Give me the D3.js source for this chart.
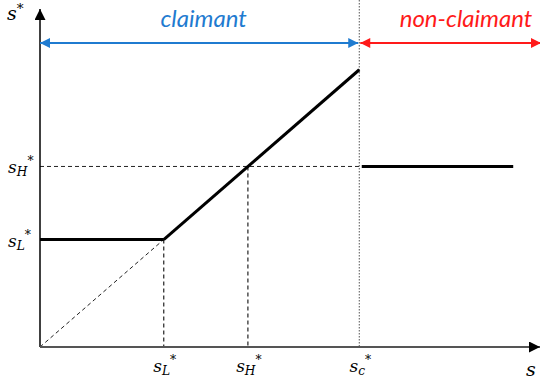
<!DOCTYPE html>
<html><head><meta charset="utf-8">
<script src="https://cdn.jsdelivr.net/npm/d3@7"></script>
<style>body{margin:0;background:#fff}svg{display:block}</style>
</head><body>
<svg id="chart" width="540" height="380"></svg>
<script>
// Threshold values on the s axis
const thresholds = [
  {key: "L", value: 25},
  {key: "H", value: 42},
  {key: "c", value: 64.5}
];
// Policy segments: claimant region follows s* = max(sL*, s); non-claimant is flat at sH*
const lowSegment = [[0, 25], [25, 25]];
const claimantSegment = [[25, 25], [64.5, 64.5]];
const nonClaimantSegment = [[65, 42], [95.6, 42]];
const regionLabels = ["claimant", "non-claimant"];

const svg = d3.select("#chart");
const x = d3.scaleLinear().domain([0, 100]).range([40, 535]);
const y = d3.scaleLinear().domain([0, 78.4]).range([347, 10]);
const sL = thresholds[0].value, sH = thresholds[1].value, sC = thresholds[2].value;

const defs = svg.append("defs");
function marker(id, color, orient, w, h) {
  defs.append("marker").attr("id", id).attr("viewBox", "0 0 10 10")
    .attr("refX", 10).attr("refY", 5).attr("markerWidth", w).attr("markerHeight", h)
    .attr("markerUnits", "userSpaceOnUse").attr("orient", orient)
    .append("path").attr("d", "M0,0L10,5L0,10z").attr("fill", color);
}
marker("axArrow", "#000", "auto", 12, 11);
marker("blueArrow", "#1f7bd0", "auto-start-reverse", 12, 10);
marker("redArrow", "#ff1a1a", "auto-start-reverse", 12, 10);

const line = d3.line().x(d => x(d[0])).y(d => y(d[1]));
const dash = "4,3";

// Guide lines
svg.append("line").attr("x1", x(sC)).attr("x2", x(sC)).attr("y1", 0).attr("y2", y(0))
  .attr("stroke", "#555").attr("stroke-width", 1).attr("stroke-dasharray", "1.5,1.5");
svg.append("line").attr("x1", x(0)).attr("x2", x(sC)).attr("y1", y(sH)).attr("y2", y(sH))
  .attr("stroke", "#222").attr("stroke-width", 1).attr("stroke-dasharray", dash);
svg.append("line").attr("x1", x(sL)).attr("x2", x(sL)).attr("y1", y(sL)).attr("y2", y(0))
  .attr("stroke", "#222").attr("stroke-width", 1.2).attr("stroke-dasharray", dash);
svg.append("line").attr("x1", x(sH)).attr("x2", x(sH)).attr("y1", y(sH)).attr("y2", y(0))
  .attr("stroke", "#222").attr("stroke-width", 1.2).attr("stroke-dasharray", dash);
svg.append("path").attr("d", line([[0, 0], [sL, sL]])).attr("fill", "none")
  .attr("stroke", "#222").attr("stroke-width", 1).attr("stroke-dasharray", dash);

// Axes
svg.append("line").attr("x1", x(0)).attr("x2", x(0)).attr("y1", y(0)).attr("y2", 9)
  .attr("stroke", "#000").attr("stroke-width", 1.5).attr("marker-end", "url(#axArrow)");
svg.append("line").attr("x1", x(0)).attr("x2", 540).attr("y1", y(0)).attr("y2", y(0))
  .attr("stroke", "#555").attr("stroke-width", 2).attr("marker-end", "url(#axArrow)");

// Policy lines
[lowSegment, claimantSegment, nonClaimantSegment].forEach(seg => {
  svg.append("path").attr("d", line(seg)).attr("fill", "none")
    .attr("stroke", "#000").attr("stroke-width", 3);
});

// Region arrows
svg.append("line").attr("x1", x(0)).attr("x2", x(sC) - 1).attr("y1", 43).attr("y2", 43)
  .attr("stroke", "#1f7bd0").attr("stroke-width", 2)
  .attr("marker-start", "url(#blueArrow)").attr("marker-end", "url(#blueArrow)");
svg.append("line").attr("x1", x(sC) + 1).attr("x2", 541).attr("y1", 43).attr("y2", 43)
  .attr("stroke", "#ff1a1a").attr("stroke-width", 2)
  .attr("marker-start", "url(#redArrow)").attr("marker-end", "url(#redArrow)");

svg.append("text").attr("x", (x(0) + x(sC)) / 2 + 4).attr("y", 27).attr("text-anchor", "middle")
  .attr("font-family", "Lato, 'Open Sans', sans-serif").attr("font-style", "italic")
  .attr("font-size", 24).attr("fill", "#1f7bd0").text(regionLabels[0]);
svg.append("text").attr("x", 466).attr("y", 27).attr("text-anchor", "middle")
  .attr("font-family", "Lato, 'Open Sans', sans-serif").attr("font-style", "italic")
  .attr("font-size", 24).attr("fill", "#ff1a1a").text(regionLabels[1]);

// Math labels
const mathFont = "'DejaVu Serif', serif";
function sym(sel, sub, star, size) {
  const s = size || 17;
  const t = sel.attr("font-family", mathFont).attr("font-style", "italic").attr("font-size", s).attr("fill", "#000");
  t.append("tspan").text("s");
  if (sub) t.append("tspan").attr("font-size", s * 0.72).attr("dy", 3).text(sub);
  if (star) t.append("tspan").attr("font-size", s * 0.72).attr("dy", sub ? -11 : -7).text("*");
  return t;
}
sym(svg.append("text").attr("x", 7).attr("y", 20), null, true, 19);
sym(svg.append("text").attr("x", 526).attr("y", 376), null, false, 19);

// Vertical axis threshold labels
[thresholds[1], thresholds[0]].forEach(d => {
  sym(svg.append("text").attr("x", 8).attr("y", y(d.value) + 7), d.key, true);
});
// Horizontal axis threshold labels
thresholds.forEach(d => {
  sym(svg.append("text").attr("x", x(d.value) + 1).attr("y", 372).attr("text-anchor", "middle"), d.key, true);
});
</script>
</body></html>
